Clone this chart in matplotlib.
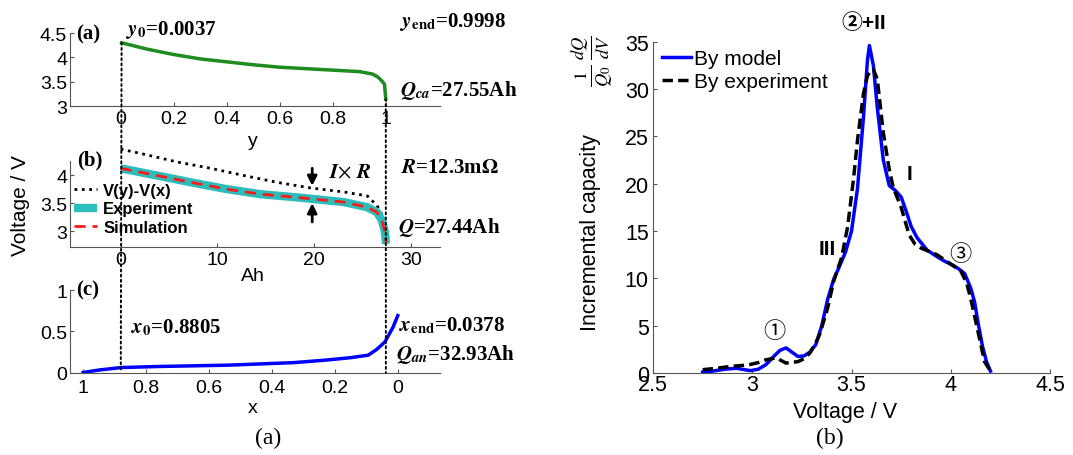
import matplotlib
matplotlib.use("Agg")
import matplotlib.pyplot as plt
from matplotlib.patches import ConnectionPatch
from matplotlib.ticker import FormatStrFormatter

# ---- data ----
# (a) cathode voltage vs stoichiometry y
y_ca = [0.0037, 0.1, 0.2, 0.3, 0.4, 0.5, 0.6, 0.7, 0.8, 0.9, 0.95, 0.97, 0.985, 0.995, 0.9998]
v_ca = [4.30, 4.17, 4.06, 3.97, 3.91, 3.85, 3.80, 3.77, 3.74, 3.71, 3.66, 3.60, 3.52, 3.45, 3.15]

# (b) full cell voltage vs capacity
ah_ocv = [0, 2.4, 5.9, 9.3, 12.8, 16.2, 19.7, 23.1, 25.5, 26.5, 27.0, 27.44]
v_ocv = [4.46, 4.37, 4.23, 4.12, 3.99, 3.87, 3.77, 3.70, 3.63, 3.46, 3.30, 3.10]
ah_cell = [0, 4.1, 7.6, 11, 14.5, 17.9, 19.7, 23.1, 25.5, 26.5, 27.0, 27.3, 27.44]
v_exp = [4.12, 3.98, 3.86, 3.75, 3.66, 3.61, 3.58, 3.52, 3.43, 3.34, 3.20, 3.00, 2.78]
v_sim = [4.12, 3.98, 3.86, 3.75, 3.66, 3.61, 3.58, 3.52, 3.43, 3.34, 3.20, 3.00, 2.80]

# (c) anode voltage vs stoichiometry x
x_an = [1.0, 0.95, 0.88, 0.76, 0.54, 0.33, 0.23, 0.15, 0.094, 0.067, 0.041, 0.015, 0.0]
v_an = [0.0, 0.03, 0.06, 0.073, 0.089, 0.12, 0.15, 0.18, 0.21, 0.28, 0.37, 0.55, 0.69]

y0, yend, x0, xend = 0.0037, 0.9998, 0.8805, 0.0378

# (b) incremental capacity
v_model = [2.75, 2.80, 2.86, 2.92, 2.99, 3.03, 3.07, 3.11, 3.14, 3.17, 3.20, 3.23, 3.26, 3.29,
           3.32, 3.35, 3.38, 3.41, 3.44, 3.47, 3.50, 3.53, 3.56, 3.58, 3.59, 3.61, 3.63, 3.66,
           3.69, 3.72, 3.75, 3.78, 3.80, 3.83, 3.88, 3.93, 3.97, 4.01, 4.04, 4.07, 4.10, 4.12,
           4.14, 4.16, 4.18, 4.20]
ic_model = [0.1, 0.2, 0.4, 0.5, 0.25, 0.4, 0.9, 1.8, 2.4, 2.65, 2.2, 1.75, 1.8, 2.2,
            3.0, 5.0, 7.8, 9.9, 11.3, 12.8, 15.0, 19.5, 27.0, 33.0, 34.6, 32.5, 28.0, 22.5,
            19.8, 19.3, 18.6, 16.8, 15.5, 14.3, 13.0, 12.3, 11.8, 11.4, 11.0, 10.5, 9.0, 7.5,
            5.0, 2.8, 1.2, 0.2]
v_expt = [2.75, 2.82, 2.89, 2.95, 2.99, 3.03, 3.07, 3.12, 3.17, 3.23, 3.26, 3.29, 3.32, 3.34,
          3.38, 3.41, 3.45, 3.48, 3.51, 3.53, 3.56, 3.58, 3.60, 3.61, 3.63, 3.66, 3.69, 3.71,
          3.75, 3.79, 3.82, 3.85, 3.93, 4.00, 4.05, 4.08, 4.10, 4.12, 4.14, 4.17, 4.20]
ic_expt = [0.35, 0.5, 0.7, 0.8, 0.9, 1.1, 1.4, 1.6, 1.05, 1.2, 1.5, 2.1, 3.2, 4.1,
           6.9, 9.7, 12.2, 15.4, 20.5, 24.6, 29.5, 31.4, 32.0, 32.1, 31.0, 25.4, 21.5, 19.6,
           17.5, 14.6, 13.6, 13.2, 12.5, 11.5, 10.8, 9.5, 7.9, 6.0, 4.1, 1.2, 0.2]

plt.rcParams['font.family'] = ['Liberation Sans', 'Noto Sans CJK SC', 'DejaVu Sans']
plt.rcParams['mathtext.fontset'] = 'stix'

W, H = 1073, 456
fig = plt.figure(figsize=(W / 100, H / 100), dpi=100)


def fx(x):
    return x / W


def fy(y):
    return 1 - y / H


serif = ['Liberation Serif', 'Noto Sans CJK SC']
axcol = '#555555'


def style(ax, size):
    for s in ['top', 'right']:
        ax.spines[s].set_visible(False)
    for s in ['left', 'bottom']:
        ax.spines[s].set_color(axcol)
        ax.spines[s].set_linewidth(0.8)
    ax.tick_params(direction='in', length=3, width=0.8, color=axcol, labelsize=size)
    ax.xaxis.set_major_formatter(FormatStrFormatter('%g'))
    ax.yaxis.set_major_formatter(FormatStrFormatter('%g'))


# ---- left column ----
ax1 = fig.add_axes([0.0652, 0.7647, 0.3448, 0.1607])
ax2 = fig.add_axes([0.0652, 0.4555, 0.3448, 0.1893])
ax3 = fig.add_axes([0.0652, 0.1809, 0.3448, 0.1809])

ax1.plot(y_ca, v_ca, color='#1e8c1e', lw=2.5)
ax1.set_xlim(-0.191, 1.204)
ax1.set_ylim(3, 4.5)
ax1.set_xticks([0, 0.2, 0.4, 0.6, 0.8, 1])
ax1.set_yticks([3, 3.5, 4, 4.5])
style(ax1, 14)
ax1.tick_params(axis='x', pad=3)
ax1.tick_params(axis='y', pad=2)
ax1.set_xlabel('y', fontsize=14, va='center')
ax1.xaxis.set_label_coords(0.495, -0.46)

ax2.plot(ah_ocv, v_ocv, color='k', ls=':', lw=2, label='V(y)-V(x)', clip_on=False)
ax2.plot(ah_cell, v_exp, color='#2cbcbc', lw=6, label='Experiment', solid_capstyle='butt')
ax2.plot(ah_cell, v_sim, color='#ff1a1a', lw=2, ls='--', dashes=(4, 2.5), label='Simulation')
ax2.set_xlim(-5.24, 33.0)
ax2.set_ylim(2.72, 4.25)
ax2.set_xticks([0, 10, 20, 30])
ax2.set_yticks([3, 3.5, 4])
style(ax2, 14)
ax2.tick_params(axis='x', pad=3)
ax2.tick_params(axis='y', pad=2)
ax2.set_xlabel('Ah', fontsize=14, va='center')
ax2.xaxis.set_label_coords(0.495, -0.33)
ax2.set_ylabel('Voltage / V', fontsize=15, va='center')
ax2.yaxis.set_label_coords(-0.135, 0.5)
ax2.legend(loc='upper left', bbox_to_anchor=(fx(74), fy(184)), bbox_transform=fig.transFigure,
           frameon=False, borderpad=0, borderaxespad=0, handlelength=1.4, handletextpad=0.35,
           labelspacing=0.2, prop={'weight': 'bold', 'size': 12})

# I x R arrows
arrow_x = 19.8
ax2.annotate('', xy=(arrow_x, 3.76), xytext=(arrow_x, 4.17),
             arrowprops=dict(arrowstyle='-|>', color='k', lw=2, mutation_scale=14))
ax2.annotate('', xy=(arrow_x, 3.55), xytext=(arrow_x, 3.12),
             arrowprops=dict(arrowstyle='-|>', color='k', lw=2, mutation_scale=14))

ax3.plot(x_an, v_an, color='#0000ff', lw=2.5)
ax3.set_xlim(1.042, -0.134)
ax3.set_ylim(0, 1)
ax3.set_xticks([1, 0.8, 0.6, 0.4, 0.2, 0])
ax3.set_yticks([0, 0.5, 1])
style(ax3, 14)
ax3.tick_params(axis='x', pad=5)
ax3.tick_params(axis='y', pad=2)
ax3.set_xlabel('x', fontsize=14, va='center')
ax3.xaxis.set_label_coords(0.495, -0.42)

# vertical dotted guide lines through the three panels
for ya, va, xb in [(y0, v_ca[0], x0), (yend, v_ca[-1], xend)]:
    con = ConnectionPatch(xyA=(ya, va), coordsA=ax1.transData, xyB=(xb, 0), coordsB=ax3.transData,
                          color='k', ls=':', lw=1.4, zorder=5)
    fig.add_artist(con)

tb = dict(fontsize=15, fontweight='bold', family=serif, va='center')
fig.text(fx(76), fy(34), '(a)', **tb)
fig.text(fx(126), fy(30), r'$\boldsymbol{y}_{\mathbf{0}}$=0.0037', **tb)
fig.text(fx(400), fy(22), r'$\boldsymbol{y}_{\mathbf{end}}$=0.9998', **tb)
fig.text(fx(400), fy(90), r'$\boldsymbol{Q}_{\boldsymbol{ca}}$=27.55Ah', **tb)
fig.text(fx(77), fy(160), '(b)', **tb)
fig.text(fx(329), fy(173), r'$\boldsymbol{I}$$\times$ $\boldsymbol{R}$', **tb)
fig.text(fx(401), fy(168), r'$\boldsymbol{R}$=12.3m$\mathbf{\Omega}$', **tb)
fig.text(fx(398), fy(228), r'$\boldsymbol{Q}$=27.44Ah', **tb)
fig.text(fx(76), fy(290), '(c)', **tb)
fig.text(fx(131), fy(328), r'$\boldsymbol{x}_{\mathbf{0}}$=0.8805', **tb)
fig.text(fx(399), fy(326), r'$\boldsymbol{x}_{\mathbf{end}}$=0.0378', **tb)
fig.text(fx(396), fy(355), r'$\boldsymbol{Q}_{\boldsymbol{an}}$=32.93Ah', **tb)

# ---- right panel ----
ax4 = fig.add_axes([0.6086, 0.1798, 0.37, 0.7265])
ax4.plot(v_model, ic_model, color='#0000ff', lw=2.5, label='By model')
ax4.plot(v_expt, ic_expt, color='k', lw=2.5, ls='--', dashes=(3, 1.5), label='By experiment')
ax4.set_xlim(2.5, 4.5)
ax4.set_ylim(0, 35)
ax4.set_xticks([2.5, 3, 3.5, 4, 4.5])
ax4.set_yticks([0, 5, 10, 15, 20, 25, 30, 35])
style(ax4, 15.5)
ax4.tick_params(axis='x', pad=1)
ax4.tick_params(axis='y', pad=3)
ax4.set_xlabel('Voltage / V', fontsize=15.5, va='center')
ax4.xaxis.set_label_coords(0.484, -0.115)
ax4.set_ylabel('Incremental capacity', fontsize=15.5, va='center')
ax4.yaxis.set_label_coords(-0.158, (374 - 233) / 331.3)
fig.text(fx(592), fy(61), r'$\frac{1}{Q_0}\,\frac{dQ}{dV}$', fontsize=19, rotation=90,
         ha='center', va='center')
ax4.legend(loc='upper left', bbox_to_anchor=(fx(662), fy(50)), bbox_transform=fig.transFigure,
           frameon=False, borderpad=0, borderaxespad=0, handlelength=1.4, handletextpad=0.15,
           labelspacing=0.2, fontsize=15)

ann = dict(ha='center', va='center', clip_on=False)
ax4.text(3.56, 37.1, '②+II', fontsize=15, fontweight='bold', **ann)
ax4.text(3.79, 21.1, 'I', fontsize=15, fontweight='bold', **ann)
ax4.text(3.38, 13.2, 'III', fontsize=15, fontweight='bold', **ann)
ax4.text(4.05, 12.5, '③', fontsize=16, family=serif, **ann)
ax4.text(3.11, 4.4, '①', fontsize=16, family=serif, **ann)

# sub-figure captions
fig.text(fx(268), fy(438), '(a)', fontsize=17, family=serif, ha='center', va='center')
fig.text(fx(830), fy(438), '(b)', fontsize=17, family=serif, ha='center', va='center')

fig.savefig('out.png', dpi=100)
